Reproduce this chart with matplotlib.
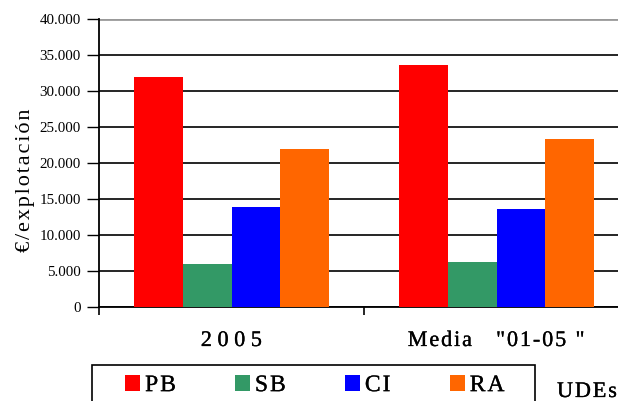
import numpy as np
import matplotlib
matplotlib.use("Agg")
import matplotlib.pyplot as plt
import matplotlib.patheffects as pe
from matplotlib.ticker import FuncFormatter
from matplotlib.patches import Rectangle

plt.rcParams['font.family'] = ['Liberation Serif', 'DejaVu Serif']

categories = ['2 0 0 5', 'Media   "01-05 "']
series = ['PB', 'SB', 'CI', 'RA']
colors = ['#FF0000', '#339966', '#0000FF', '#FF6600']
values = {
    'PB': [32000, 33600],
    'SB': [6000, 6250],
    'CI': [13900, 13600],
    'RA': [21900, 23350],
}


def track(s):
    # wide letter spacing like the original
    return '\u200a'.join(s)


heavy = [pe.withStroke(linewidth=0.2, foreground='black')]

fig = plt.figure(figsize=(6.18, 4.01), dpi=100)
ax = fig.add_axes([99 / 618, 1 - 307 / 401, 530 / 618, 288 / 401])

centers = np.arange(len(categories)) + 0.5
bw = 0.184
bars = []
for i, s in enumerate(series):
    b = ax.bar(centers + (i - 1.5) * bw, values[s], bw, color=colors[i],
               zorder=3, linewidth=0)
    bars.append(b)

ax.set_xlim(0, 2)
ax.set_ylim(0, 40000)
ax.set_yticks(np.arange(0, 40001, 5000))
ax.yaxis.set_major_formatter(FuncFormatter(lambda v, p: f"{int(v):,}".replace(",", ".")))
ax.grid(axis='y', color='black', linewidth=1.2, zorder=0)
ax.set_axisbelow(True)

ax.set_xticks([0, 1, 2])
ax.set_xticklabels([])
ax.set_xticks(centers, minor=True)
labs = ax.set_xticklabels([categories[0], track(categories[1])], minor=True, fontsize=16)
for t in labs:
    t.set_path_effects(heavy)
ax.tick_params(axis='x', which='minor', length=0, pad=18)
ax.tick_params(axis='x', which='major', direction='out', length=6, width=1.2)
ax.tick_params(axis='y', direction='out', length=9, width=1.0, labelsize=10.8, pad=4)

for side in ['top', 'right']:
    ax.spines[side].set_visible(False)
ax.spines['left'].set_linewidth(1.3)
ax.spines['bottom'].set_linewidth(1.3)
ax.axhline(40000, color='#999999', linewidth=2.0, zorder=1)

ax.set_ylabel(track('€/explotación'), fontsize=16)
ax.yaxis.set_label_coords(-0.121, (307 - 180) / 288)

leg = fig.legend(handles=bars, labels=[track(s) for s in series], loc='upper left',
                 bbox_to_anchor=(125 / 618, 1 - 375 / 401), ncol=4, fontsize=17,
                 frameon=False, handlelength=0.64, handleheight=0.64,
                 handletextpad=0.21, columnspacing=2.5, borderaxespad=0,
                 borderpad=0)
for t in leg.get_texts():
    t.set_path_effects(heavy)
fig.add_artist(Rectangle((92 / 618, -0.05), 443 / 618, 0.05 + 1 - 365 / 401,
                         transform=fig.transFigure, fill=False,
                         edgecolor='black', linewidth=1.2))

fig.text(557 / 618, 1 - 397 / 401, track('UDEs'), fontsize=16,
         va='baseline', ha='left', path_effects=heavy)

fig.savefig('out.png', dpi=100)
